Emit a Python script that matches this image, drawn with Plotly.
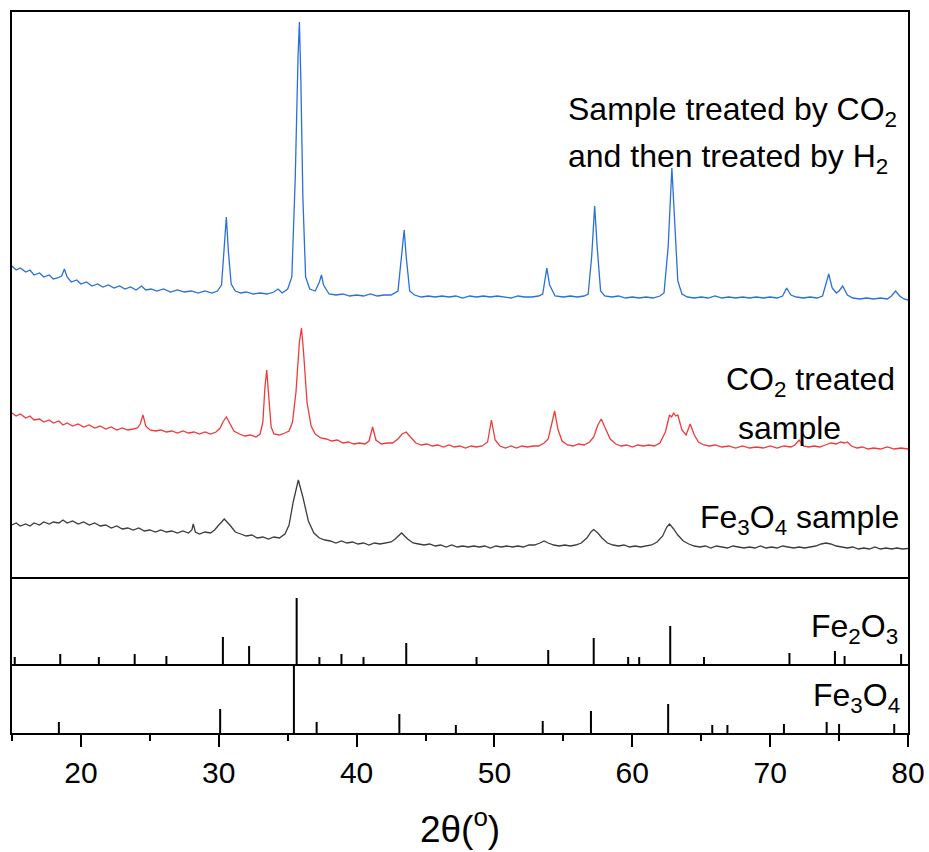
import plotly.graph_objects as go
from plotly.subplots import make_subplots

# ---- measured XRD patterns: (2theta in degrees, intensity in a.u.) ----
h2_pattern = [
    (15.0, 311), (15.3, 307), (15.6, 309), (16.0, 305), (16.3, 307), (16.6, 302), (17.0, 304), (17.3, 300),
    (17.7, 302), (18.0, 298), (18.3, 299), (18.6, 301), (18.8, 308), (19.0, 300), (19.3, 295), (19.7, 297),
    (20.0, 293), (20.4, 295), (20.8, 291), (21.2, 293), (21.6, 290), (22.0, 292), (22.4, 289), (22.8, 291),
    (23.2, 288), (23.6, 290), (24.0, 287), (24.4, 291), (24.7, 287), (25.1, 288), (25.5, 286), (26.0, 288),
    (26.5, 285), (27.0, 287), (27.5, 285), (28.0, 286), (28.5, 284), (29.0, 286), (29.5, 284), (29.9, 286),
    (30.2, 292), (30.4, 330), (30.55, 360), (30.7, 325), (30.9, 293), (31.2, 286), (31.6, 284), (32.0, 285),
    (32.5, 283), (33.0, 284), (33.5, 283), (34.0, 285), (34.3, 288), (34.6, 284), (35.0, 288), (35.3, 300),
    (35.55, 400), (35.75, 520), (35.85, 555), (35.95, 500), (36.1, 380), (36.3, 300), (36.6, 288),
    (37.0, 286), (37.3, 295), (37.45, 302), (37.6, 292), (38.0, 283), (38.5, 282), (39.0, 283), (39.5, 281),
    (40.0, 282), (40.5, 281), (41.0, 283), (41.5, 281), (42.0, 282), (42.5, 282), (43.0, 286), (43.25, 320),
    (43.45, 347), (43.6, 320), (43.85, 286), (44.2, 282), (44.7, 280), (45.2, 281), (45.7, 280), (46.2, 281),
    (46.7, 280), (47.2, 281), (47.7, 279), (48.2, 281), (48.7, 280), (49.2, 281), (49.7, 280), (50.2, 281),
    (50.7, 280), (51.2, 279), (51.7, 281), (52.2, 280), (52.7, 280), (53.2, 281), (53.5, 283), (53.8, 309),
    (54.0, 292), (54.4, 281), (55.0, 280), (55.5, 281), (56.0, 280), (56.5, 281), (56.8, 283), (57.05, 320),
    (57.27, 371), (57.45, 330), (57.7, 286), (58.0, 281), (58.5, 280), (59.0, 281), (59.5, 279), (60.0, 280),
    (60.5, 279), (61.0, 280), (61.5, 279), (62.0, 281), (62.3, 284), (62.6, 330), (62.87, 409), (63.05, 360),
    (63.3, 296), (63.6, 283), (64.0, 280), (64.5, 279), (65.0, 280), (65.5, 279), (66.0, 281), (66.5, 279),
    (67.0, 280), (67.5, 279), (68.0, 280), (68.5, 279), (69.0, 280), (69.5, 279), (70.0, 280), (70.5, 279),
    (70.9, 281), (71.2, 289), (71.5, 282), (71.9, 280), (72.4, 279), (72.9, 280), (73.4, 279), (73.8, 281),
    (74.1, 295), (74.25, 303), (74.5, 289), (74.8, 284), (75.0, 286), (75.26, 291), (75.6, 282), (76.0, 279),
    (76.5, 278), (77.0, 279), (77.5, 278), (78.0, 279), (78.5, 278), (78.8, 281), (79.1, 286), (79.4, 281),
    (79.7, 278), (80.0, 277),
]

co2_pattern = [
    (15.0, 164), (15.3, 161), (15.6, 163), (16.0, 159), (16.3, 161), (16.6, 157), (17.0, 158), (17.3, 155),
    (17.7, 157), (18.0, 154), (18.4, 156), (18.7, 152), (19.0, 154), (19.4, 151), (19.8, 153), (20.2, 150),
    (20.6, 152), (21.0, 149), (21.4, 151), (21.8, 148), (22.2, 150), (22.6, 147), (23.0, 149), (23.4, 147),
    (23.8, 148), (24.1, 149), (24.3, 153), (24.5, 162), (24.7, 151), (25.0, 147), (25.4, 146), (25.8, 147),
    (26.2, 145), (26.6, 146), (27.0, 144), (27.4, 146), (27.8, 144), (28.2, 145), (28.6, 143), (29.0, 145),
    (29.4, 143), (29.8, 145), (30.1, 149), (30.3, 155), (30.55, 160), (30.8, 153), (31.1, 146), (31.5, 143),
    (31.9, 141), (32.3, 142), (32.7, 140), (33.0, 143), (33.2, 155), (33.35, 190), (33.48, 207), (33.6, 185),
    (33.8, 150), (34.0, 143), (34.4, 142), (34.8, 144), (35.1, 146), (35.35, 155), (35.6, 185), (35.85, 235),
    (36.0, 249), (36.15, 225), (36.4, 175), (36.7, 151), (37.0, 143), (37.4, 139), (37.8, 138), (38.2, 136),
    (38.6, 137), (39.0, 134), (39.4, 135), (39.8, 133), (40.2, 134), (40.6, 133), (40.9, 136), (41.16, 150),
    (41.4, 137), (41.8, 133), (42.2, 134), (42.6, 134), (43.0, 138), (43.3, 143), (43.6, 145), (43.9, 140),
    (44.3, 134), (44.7, 132), (45.1, 133), (45.5, 131), (45.9, 132), (46.3, 130), (46.7, 132), (47.1, 130),
    (47.5, 131), (47.9, 129), (48.3, 131), (48.7, 130), (49.1, 131), (49.5, 135), (49.78, 157), (50.05, 137),
    (50.4, 131), (50.8, 129), (51.2, 131), (51.6, 129), (52.0, 131), (52.4, 130), (52.8, 131), (53.2, 131),
    (53.6, 134), (53.9, 138), (54.1, 150), (54.37, 166), (54.6, 148), (54.9, 136), (55.3, 132), (55.7, 131),
    (56.1, 133), (56.5, 132), (56.9, 135), (57.2, 140), (57.5, 152), (57.75, 158), (58.0, 150), (58.4, 138),
    (58.8, 133), (59.2, 131), (59.6, 132), (60.0, 130), (60.4, 132), (60.8, 131), (61.2, 132), (61.6, 131),
    (62.0, 134), (62.4, 145), (62.7, 162), (62.85, 160), (63.0, 164), (63.15, 161), (63.3, 162), (63.6, 147),
    (63.9, 142), (64.2, 153), (64.5, 142), (64.8, 135), (65.2, 132), (65.6, 131), (66.0, 132), (66.5, 130),
    (67.0, 131), (67.5, 129), (68.0, 131), (68.5, 129), (69.0, 130), (69.5, 129), (70.0, 131), (70.5, 129),
    (71.0, 131), (71.5, 130), (71.8, 132), (72.1, 137), (72.4, 131), (72.8, 130), (73.2, 131), (73.6, 130),
    (74.0, 132), (74.4, 134), (74.8, 133), (75.1, 135), (75.4, 134), (75.6, 135), (75.9, 131), (76.3, 129),
    (76.7, 130), (77.1, 128), (77.5, 129), (78.0, 128), (78.5, 130), (79.0, 128), (79.5, 129), (80.0, 128),
]

fe3o4_pattern = [
    (15.0, 52), (15.3, 54), (15.6, 51), (16.0, 53), (16.3, 51), (16.6, 54), (17.0, 52), (17.3, 55),
    (17.7, 53), (18.0, 55), (18.4, 54), (18.7, 57), (19.0, 54), (19.4, 56), (19.8, 53), (20.2, 55),
    (20.6, 52), (21.0, 54), (21.4, 51), (21.8, 52), (22.2, 49), (22.6, 51), (23.0, 48), (23.4, 49),
    (23.8, 47), (24.2, 49), (24.6, 46), (25.0, 47), (25.4, 45), (25.8, 47), (26.2, 45), (26.6, 46),
    (27.0, 44), (27.4, 46), (27.8, 44), (28.05, 47), (28.15, 53), (28.3, 45), (28.6, 43), (29.0, 45),
    (29.4, 44), (29.7, 47), (30.0, 52), (30.4, 58), (30.8, 52), (31.2, 45), (31.6, 43), (32.0, 41),
    (32.4, 42), (32.8, 39), (33.2, 40), (33.6, 38), (34.0, 40), (34.4, 39), (34.8, 43), (35.1, 52),
    (35.4, 75), (35.77, 97), (36.1, 80), (36.5, 56), (36.9, 44), (37.3, 39), (37.7, 37), (38.1, 36),
    (38.5, 34), (38.9, 36), (39.3, 34), (39.7, 35), (40.1, 33), (40.5, 34), (40.9, 32), (41.3, 34),
    (41.7, 33), (42.1, 34), (42.5, 35), (42.8, 38), (43.26, 44), (43.7, 38), (44.1, 34), (44.5, 33),
    (44.9, 32), (45.3, 33), (45.7, 31), (46.1, 32), (46.5, 30), (46.9, 32), (47.3, 30), (47.7, 31),
    (48.1, 30), (48.5, 31), (48.9, 30), (49.3, 31), (49.7, 29), (50.1, 31), (50.5, 30), (50.9, 31),
    (51.3, 30), (51.7, 31), (52.1, 30), (52.5, 32), (52.9, 32), (53.3, 34), (53.6, 36), (53.9, 34),
    (54.3, 32), (54.7, 31), (55.1, 32), (55.5, 31), (55.9, 32), (56.3, 34), (56.7, 39), (57.0, 45),
    (57.2, 47.5), (57.5, 44), (57.8, 39), (58.2, 34), (58.6, 32), (59.0, 31), (59.4, 32), (59.8, 30),
    (60.2, 31), (60.6, 30), (61.0, 31), (61.4, 32), (61.8, 35), (62.2, 41), (62.5, 50), (62.7, 53),
    (63.0, 48), (63.3, 42), (63.7, 36), (64.1, 33), (64.5, 31), (64.9, 30), (65.3, 31), (65.7, 29),
    (66.1, 31), (66.5, 30), (66.9, 29), (67.3, 31), (67.7, 30), (68.1, 29), (68.5, 30), (68.9, 29),
    (69.3, 31), (69.7, 29), (70.1, 30), (70.5, 29), (70.9, 31), (71.3, 30), (71.7, 29), (72.1, 30),
    (72.5, 29), (72.9, 30), (73.3, 31), (73.7, 33), (74.05, 34), (74.4, 33), (74.8, 31), (75.2, 30),
    (75.6, 29), (76.0, 30), (76.4, 28), (76.8, 29), (77.2, 28), (77.6, 30), (78.0, 28), (78.4, 29),
    (78.8, 28), (79.2, 29), (79.6, 28), (80.0, 28.5),
]

# ---- reference patterns (stick positions and relative intensities) ----
ref_fe2o3_pos = [15.2, 18.5, 21.3, 23.9, 26.2, 30.3, 32.2, 35.65, 37.3, 38.9, 40.5, 43.6, 48.7, 53.9, 57.2,
                 59.7, 60.5, 62.75, 65.2, 71.4, 74.7, 75.4, 79.5]
ref_fe2o3_int = [7, 10, 7, 10, 8, 27, 18, 66, 7, 10, 7, 21, 7, 14, 26, 7, 7, 38, 7, 11, 13, 8, 10]

ref_fe3o4_pos = [18.4, 30.1, 35.45, 37.1, 43.1, 47.2, 53.5, 57.0, 62.6, 65.8, 66.9, 71.0, 74.1, 75.0, 79.0]
ref_fe3o4_int = [11, 24, 69, 11, 19, 8, 12, 22, 29, 8, 8, 9, 11, 9, 9]

FONT = "Liberation Sans, Arial, sans-serif"

fig = make_subplots(rows=3, cols=1, shared_xaxes=True, vertical_spacing=0,
                    row_heights=[565, 87, 69])

for pattern, color in ((h2_pattern, "#2a6fdc"), (co2_pattern, "#f03a3a"), (fe3o4_pattern, "#3c3c3c")):
    tx, iy = zip(*pattern)
    fig.add_trace(go.Scatter(x=list(tx), y=list(iy), mode="lines",
                             line=dict(color=color, width=1.3)), row=1, col=1)


def sticks(pos, inten):
    xs, ys = [], []
    for p, v in zip(pos, inten):
        xs += [p, p, None]
        ys += [0, v, None]
    return xs, ys


sx, sy = sticks(ref_fe2o3_pos, ref_fe2o3_int)
fig.add_trace(go.Scatter(x=sx, y=sy, mode="lines", line=dict(color="black", width=2)), row=2, col=1)
sx, sy = sticks(ref_fe3o4_pos, ref_fe3o4_int)
fig.add_trace(go.Scatter(x=sx, y=sy, mode="lines", line=dict(color="black", width=2)), row=3, col=1)

frame = dict(showline=True, linecolor="black", linewidth=2, showgrid=False, zeroline=False,
             automargin=False)

# top panel carries the full box; lower panels only draw their bottom edge so
# shared borders are a single line
fig.update_xaxes(range=[15, 80], ticks="", showticklabels=False, mirror=True, row=1, col=1, **frame)
fig.update_xaxes(range=[15, 80], ticks="", showticklabels=False, mirror=False, row=2, col=1, **frame)
fig.update_xaxes(range=[15, 80], ticks="outside", ticklen=12, tickwidth=2, tickcolor="black",
                 tick0=0, dtick=10, showticklabels=True, mirror=False,
                 tickfont=dict(family=FONT, size=30, color="black"),
                 minor=dict(ticks="outside", ticklen=6, tickwidth=2, tickcolor="black", dtick=5, tick0=0),
                 title=dict(text="2θ(<sup>o</sup>)", font=dict(family=FONT, size=37, color="black"),
                            standoff=28),
                 row=3, col=1, **frame)

fig.update_yaxes(range=[0, 565], row=1, col=1)
fig.update_yaxes(range=[0, 87], row=2, col=1)
fig.update_yaxes(range=[0, 69], row=3, col=1)
fig.update_yaxes(ticks="", showticklabels=False, mirror=True, **frame)

lbl = dict(family=FONT, size=32, color="black")
notes = [
    dict(x=55.17, y=466, xref="x", yref="y", text="Sample treated by CO<sub>2</sub>", xanchor="left"),
    dict(x=55.17, y=419, xref="x", yref="y", text="and then treated by H<sub>2</sub>", xanchor="left"),
    dict(x=79.2, y=196, xref="x", yref="y", text="CO<sub>2</sub> treated", xanchor="right"),
    dict(x=67.49, y=149, xref="x", yref="y", text="sample", xanchor="left"),
    dict(x=79.49, y=58, xref="x", yref="y", text="Fe<sub>3</sub>O<sub>4</sub> sample", xanchor="right"),
    dict(x=79.42, y=36, xref="x2", yref="y2", text="Fe<sub>2</sub>O<sub>3</sub>", xanchor="right"),
    dict(x=79.6, y=36, xref="x3", yref="y3", text="Fe<sub>3</sub>O<sub>4</sub>", xanchor="right"),
]
for n in notes:
    fig.add_annotation(showarrow=False, yanchor="middle", font=lbl, **n)

fig.update_layout(width=929, height=852, showlegend=False,
                  margin=dict(l=12, r=21, t=12, b=119, autoexpand=False),
                  paper_bgcolor="white", plot_bgcolor="white")

fig.write_html("out.html")
